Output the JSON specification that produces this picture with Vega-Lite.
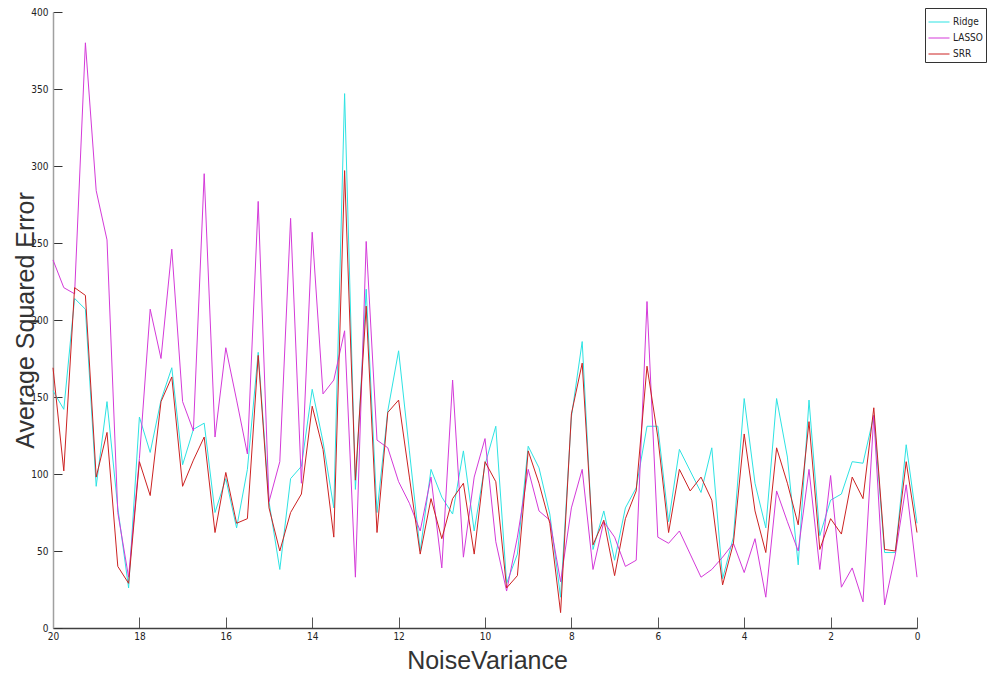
{
  "$schema": "https://vega.github.io/schema/vega-lite/v6.json",
  "width": 864,
  "height": 616,
  "autosize": {"type": "none"},
  "padding": {"left": 53, "top": 12, "right": 76, "bottom": 47},
  "background": "white",
  "config": {
    "view": {"stroke": null},
    "font": "Liberation Sans",
    "axis": {"grid": false, "labelFont": "'Liberation Sans Narrow', 'DejaVu Sans Condensed', 'Liberation Sans', sans-serif", "labelFontSize": 10, "labelColor": "#222222", "titleFont": "Liberation Sans", "titleFontWeight": "normal", "titleColor": "#333333", "titleFontSize": 25}
  },
  "data": {
    "values": [
      {"nv": 20, "Ridge": 154, "LASSO": 239, "SRR": 169},
      {"nv": 19.75, "Ridge": 142, "LASSO": 221, "SRR": 102},
      {"nv": 19.5, "Ridge": 214, "LASSO": 217, "SRR": 221},
      {"nv": 19.25, "Ridge": 207, "LASSO": 380, "SRR": 216},
      {"nv": 19, "Ridge": 92, "LASSO": 284, "SRR": 98},
      {"nv": 18.75, "Ridge": 147, "LASSO": 252, "SRR": 127},
      {"nv": 18.5, "Ridge": 78, "LASSO": 75, "SRR": 40},
      {"nv": 18.25, "Ridge": 26, "LASSO": 33, "SRR": 29},
      {"nv": 18, "Ridge": 137, "LASSO": 110, "SRR": 108},
      {"nv": 17.75, "Ridge": 114, "LASSO": 207, "SRR": 86},
      {"nv": 17.5, "Ridge": 148, "LASSO": 175, "SRR": 147},
      {"nv": 17.25, "Ridge": 169, "LASSO": 246, "SRR": 163},
      {"nv": 17, "Ridge": 106, "LASSO": 147, "SRR": 92},
      {"nv": 16.75, "Ridge": 129, "LASSO": 128, "SRR": 109},
      {"nv": 16.5, "Ridge": 133, "LASSO": 295, "SRR": 124},
      {"nv": 16.25, "Ridge": 75, "LASSO": 124, "SRR": 62},
      {"nv": 16, "Ridge": 97, "LASSO": 182, "SRR": 101},
      {"nv": 15.75, "Ridge": 65, "LASSO": 148, "SRR": 68},
      {"nv": 15.5, "Ridge": 103, "LASSO": 113, "SRR": 71},
      {"nv": 15.25, "Ridge": 179, "LASSO": 277, "SRR": 177},
      {"nv": 15, "Ridge": 82, "LASSO": 82, "SRR": 78},
      {"nv": 14.75, "Ridge": 38, "LASSO": 108, "SRR": 50},
      {"nv": 14.5, "Ridge": 97, "LASSO": 266, "SRR": 75},
      {"nv": 14.25, "Ridge": 105, "LASSO": 94, "SRR": 87},
      {"nv": 14, "Ridge": 155, "LASSO": 257, "SRR": 144},
      {"nv": 13.75, "Ridge": 121, "LASSO": 152, "SRR": 116},
      {"nv": 13.5, "Ridge": 78, "LASSO": 161, "SRR": 59},
      {"nv": 13.25, "Ridge": 347, "LASSO": 193, "SRR": 297},
      {"nv": 13, "Ridge": 90, "LASSO": 33, "SRR": 96},
      {"nv": 12.75, "Ridge": 220, "LASSO": 251, "SRR": 209},
      {"nv": 12.5, "Ridge": 75, "LASSO": 122, "SRR": 62},
      {"nv": 12.25, "Ridge": 141, "LASSO": 117, "SRR": 140},
      {"nv": 12, "Ridge": 180, "LASSO": 95, "SRR": 148},
      {"nv": 11.75, "Ridge": 115, "LASSO": 81, "SRR": 98},
      {"nv": 11.5, "Ridge": 50, "LASSO": 63, "SRR": 48},
      {"nv": 11.25, "Ridge": 103, "LASSO": 98, "SRR": 84},
      {"nv": 11, "Ridge": 85, "LASSO": 39, "SRR": 58},
      {"nv": 10.75, "Ridge": 74, "LASSO": 161, "SRR": 84},
      {"nv": 10.5, "Ridge": 115, "LASSO": 46, "SRR": 94},
      {"nv": 10.25, "Ridge": 63, "LASSO": 98, "SRR": 48},
      {"nv": 10, "Ridge": 106, "LASSO": 123, "SRR": 108},
      {"nv": 9.75, "Ridge": 131, "LASSO": 56, "SRR": 95},
      {"nv": 9.5, "Ridge": 29, "LASSO": 24, "SRR": 26},
      {"nv": 9.25, "Ridge": 48, "LASSO": 59, "SRR": 34},
      {"nv": 9, "Ridge": 118, "LASSO": 103, "SRR": 115},
      {"nv": 8.75, "Ridge": 104, "LASSO": 76, "SRR": 94},
      {"nv": 8.5, "Ridge": 74, "LASSO": 70, "SRR": 68},
      {"nv": 8.25, "Ridge": 20, "LASSO": 30, "SRR": 10},
      {"nv": 8, "Ridge": 137, "LASSO": 78, "SRR": 139},
      {"nv": 7.75, "Ridge": 186, "LASSO": 103, "SRR": 172},
      {"nv": 7.5, "Ridge": 51, "LASSO": 38, "SRR": 54},
      {"nv": 7.25, "Ridge": 76, "LASSO": 69, "SRR": 70},
      {"nv": 7, "Ridge": 44, "LASSO": 59, "SRR": 34},
      {"nv": 6.75, "Ridge": 78, "LASSO": 40, "SRR": 71},
      {"nv": 6.5, "Ridge": 91, "LASSO": 44, "SRR": 89},
      {"nv": 6.25, "Ridge": 131, "LASSO": 212, "SRR": 170},
      {"nv": 6, "Ridge": 131, "LASSO": 59, "SRR": 124},
      {"nv": 5.75, "Ridge": 69, "LASSO": 55, "SRR": 62},
      {"nv": 5.5, "Ridge": 116, "LASSO": 63, "SRR": 103},
      {"nv": 5.25, "Ridge": 102, "LASSO": 48, "SRR": 89},
      {"nv": 5, "Ridge": 88, "LASSO": 33, "SRR": 98},
      {"nv": 4.75, "Ridge": 117, "LASSO": 38, "SRR": 83},
      {"nv": 4.5, "Ridge": 32, "LASSO": 46, "SRR": 28},
      {"nv": 4.25, "Ridge": 59, "LASSO": 55, "SRR": 55},
      {"nv": 4, "Ridge": 149, "LASSO": 36, "SRR": 126},
      {"nv": 3.75, "Ridge": 94, "LASSO": 58, "SRR": 76},
      {"nv": 3.5, "Ridge": 65, "LASSO": 20, "SRR": 49},
      {"nv": 3.25, "Ridge": 149, "LASSO": 89, "SRR": 117},
      {"nv": 3, "Ridge": 111, "LASSO": 69, "SRR": 94},
      {"nv": 2.75, "Ridge": 41, "LASSO": 50, "SRR": 67},
      {"nv": 2.5, "Ridge": 148, "LASSO": 103, "SRR": 134},
      {"nv": 2.25, "Ridge": 60, "LASSO": 38, "SRR": 51},
      {"nv": 2, "Ridge": 83, "LASSO": 99, "SRR": 71},
      {"nv": 1.75, "Ridge": 87, "LASSO": 26.5, "SRR": 61},
      {"nv": 1.5, "Ridge": 108, "LASSO": 39, "SRR": 98},
      {"nv": 1.25, "Ridge": 107, "LASSO": 17, "SRR": 84},
      {"nv": 1, "Ridge": 138, "LASSO": 138, "SRR": 143},
      {"nv": 0.75, "Ridge": 49, "LASSO": 15, "SRR": 51},
      {"nv": 0.5, "Ridge": 49, "LASSO": 48, "SRR": 50},
      {"nv": 0.25, "Ridge": 119, "LASSO": 93, "SRR": 108},
      {"nv": 0, "Ridge": 68, "LASSO": 33, "SRR": 62}
    ]
  },
  "transform": [{"fold": ["Ridge", "LASSO", "SRR"], "as": ["method", "error"]}],
  "mark": {"type": "line", "strokeWidth": 1, "interpolate": "linear"},
  "encoding": {
    "x": {
      "field": "nv",
      "type": "quantitative",
      "title": "NoiseVariance",
      "scale": {"domain": [0, 20], "reverse": true, "nice": false},
      "axis": {
        "values": [0, 2, 4, 6, 8, 10, 12, 14, 16, 18, 20],
        "format": "d",
        "tickSize": -11,
        "tickColor": "#555555",
        "domainColor": "#404040",
        "domainWidth": 1.5,
        "labelPadding": 14,
        "labelFlush": false,
        "titleX": 434,
        "titleY": 40,
        "titleAnchor": null,
        "titleBaseline": "alphabetic"
      }
    },
    "y": {
      "field": "error",
      "type": "quantitative",
      "title": "Average Squared Error",
      "scale": {"domain": [0, 400], "nice": false},
      "axis": {
        "values": [0, 50, 100, 150, 200, 250, 300, 350, 400],
        "tickSize": -9,
        "tickColor": "#333333",
        "domainColor": "#a0a0a0",
        "domainWidth": 1.5,
        "labelPadding": 14,
        "labelFlush": false,
        "titleX": -20,
        "titleY": 308,
        "titleAngle": -90,
        "titleAnchor": null,
        "titleBaseline": "alphabetic"
      }
    },
    "color": {
      "field": "method",
      "type": "nominal",
      "sort": ["Ridge", "LASSO", "SRR"],
      "scale": {"domain": ["Ridge", "LASSO", "SRR"], "range": ["#2de3e3", "#d43ad9", "#cc2222"]},
      "legend": {
        "title": null,
        "orient": "none",
        "legendX": 872,
        "legendY": -4,
        "fillColor": "white",
        "strokeColor": "#333333",
        "padding": 3,
        "cornerRadius": 0,
        "symbolType": "stroke",
        "symbolSize": 441,
        "symbolStrokeWidth": 1,
        "symbolOffset": 0,
        "labelOffset": 3,
        "labelFont": "'Liberation Sans Narrow', 'DejaVu Sans Condensed', 'Liberation Sans', sans-serif",
        "labelFontSize": 10,
        "labelColor": "#222222",
        "rowPadding": -11
      }
    }
  }
}
